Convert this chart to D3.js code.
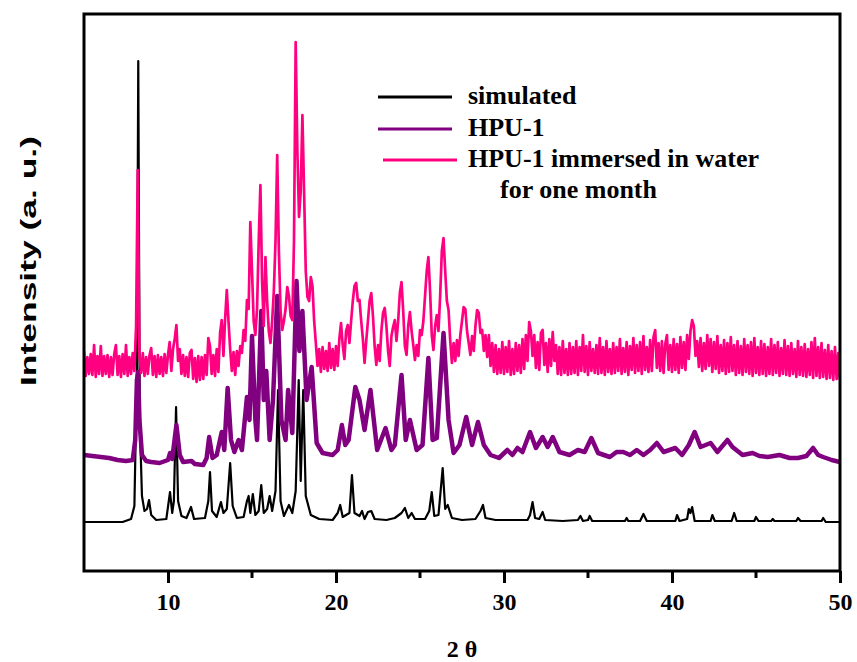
<!DOCTYPE html>
<html>
<head>
<meta charset="utf-8">
<script src="https://cdn.jsdelivr.net/npm/d3@7"></script>
<style>
  body { margin: 0; background: #fff; }
  svg { display: block; }
</style>
</head>
<body>
<svg id="chart" width="857" height="662"></svg>
<script>
// x ticks
var xTicks = [10, 20, 30, 40, 50];
var xMinor = [15, 25, 35, 45];

// legend
var legendNames = ["simulated", "HPU-1", "HPU-1 immersed in water"];
var legendColors = ["#000000", "#800080", "#ff0080"];

// simulated pattern, [2theta, intensity]
var simulated = [
  [5,49],[7.3,49],[7.8,52],[8.0,65],[8.15,200],[8.23,510],[8.32,150],[8.45,75],[8.6,60],[8.75,62],[8.87,71],[9.0,56],[9.3,51],
  [9.9,52],[10.12,79],[10.25,58],[10.35,70],[10.48,164],[10.6,70],[10.8,55],[11.1,53],[11.37,64],[11.55,52],[12.2,53],[12.4,70],
  [12.5,99],[12.62,60],[12.9,54],[13.15,69],[13.3,58],[13.5,62],[13.7,108],[13.85,65],[14.1,53],[14.5,54],[14.7,70],[14.8,75],
  [14.9,58],[15.05,77],[15.2,56],[15.4,60],[15.55,86],[15.7,58],[15.9,62],[16.05,75],[16.2,60],[16.4,80],[16.55,181],[16.7,70],
  [16.9,55],[17.2,66],[17.4,58],[17.6,80],[17.78,191],[17.9,90],[18.05,181],[18.2,75],[18.5,56],[19.0,52],[19.8,51],[20.1,58],
  [20.25,66],[20.4,54],[20.8,58],[20.95,96],[21.1,58],[21.4,55],[21.55,60],[21.7,52],[21.9,59],[22.1,60],[22.3,52],[23.0,51],
  [23.5,53],[23.9,58],[24.1,63],[24.3,53],[24.5,58],[24.7,52],[25.3,52],[25.55,60],[25.7,79],[25.85,55],[26.1,56],[26.35,103],
  [26.5,62],[26.65,66],[26.9,53],[27.5,51],[28.3,52],[28.6,60],[28.75,66],[28.9,53],[29.5,51],[30.5,51],[31.4,51],[31.55,56],
  [31.7,69],[31.85,53],[32.1,52],[32.3,59],[32.45,51],[33.5,50],[34.4,51],[34.55,55],[34.7,50],[35.0,51],[35.1,55],[35.25,50],
  [36.5,50],[37.2,50],[37.3,53],[37.4,50],[38.1,50],[38.3,57],[38.5,50],[39.5,50],[40.2,50],[40.3,56],[40.45,50],[40.9,52],
  [41.0,62],[41.1,58],[41.2,64],[41.35,50],[42.3,50],[42.4,56],[42.55,50],[43.55,50],[43.7,58],[43.85,50],[44.9,50],[45.0,54],
  [45.15,50],[45.9,50],[46.0,52],[46.1,50],[47.4,50],[47.5,53],[47.65,50],[48.9,50],[49.0,53],[49.15,49],[50,49]
];

// HPU-1 as synthesized, [2theta, intensity]
var hpu = [
  [5.0,116],[5.5,115],[6.0,114],[6.5,113],[7.0,111],[7.5,110],[7.9,111],[8.05,131],[8.15,191],[8.22,199],[8.3,151],[8.45,116],
  [8.7,110],[9.0,109],[9.5,108],[10.0,111],[10.12,118],[10.25,112],[10.5,146],[10.7,116],[10.9,109],[11.4,110],[11.6,107],
  [12.1,106],[12.3,113],[12.45,134],[12.65,113],[12.9,116],[13.2,139],[13.35,121],[13.55,183],[13.75,131],[13.95,119],[14.2,131],
  [14.4,121],[14.7,174],[14.85,151],[15.0,235],[15.2,151],[15.3,131],[15.55,260],[15.7,171],[15.85,200],[16.05,131],[16.25,171],
  [16.5,275],[16.75,151],[17.0,131],[17.15,181],[17.4,138],[17.65,290],[17.82,220],[18.0,260],[18.25,171],[18.55,204],[18.85,128],
  [19.2,118],[19.8,116],[20.1,121],[20.35,146],[20.55,126],[20.75,131],[21.15,184],[21.4,171],[21.7,141],[22.05,181],[22.45,121],
  [22.95,143],[23.3,121],[23.5,126],[23.9,196],[24.15,131],[24.4,151],[24.8,121],[25.15,126],[25.5,213],[25.75,131],[26.0,133],
  [26.4,238],[26.7,151],[27.0,118],[27.35,126],[27.75,154],[28.1,126],[28.45,149],[28.8,126],[29.2,116],[29.7,113],[30.2,121],
  [30.5,116],[30.8,123],[31.1,119],[31.55,139],[31.9,123],[32.3,134],[32.6,124],[32.9,134],[33.3,119],[33.9,116],[34.4,121],
  [34.8,119],[35.2,133],[35.6,118],[36.3,114],[36.7,119],[37.1,119],[37.5,116],[37.9,121],[38.3,116],[38.7,121],[39.1,128],
  [39.5,119],[40.2,123],[40.6,116],[41.0,126],[41.35,139],[41.7,124],[42.3,128],[42.7,119],[43.3,131],[43.6,124],[44.2,116],
  [44.8,118],[45.2,115],[45.7,114],[46.4,116],[47.0,113],[47.5,113],[48.0,115],[48.4,123],[48.7,116],[49.0,114],[49.5,111],[50,109]
];

// HPU-1 after one month in water, sampled every 0.1 deg from 5.0
var waterStart = 5.0;
var waterStep = 0.1;
var water = [
  220,195,214,197,217,196,226,194,215,197,
  225,195,215,197,216,194,214,196,217,226,
  196,215,194,217,197,226,195,214,197,218,
  200,245,401,215,198,218,195,214,197,216,
  223,196,215,194,216,197,214,195,217,198,
  216,229,200,222,232,246,210,222,197,216,
  195,214,194,218,221,192,213,189,215,191,
  214,192,216,196,233,225,197,216,195,222,
  199,238,251,215,252,281,250,222,200,219,
  196,220,205,225,218,241,230,271,262,349,
  300,250,236,262,330,386,290,245,314,270,
  240,228,250,280,330,416,320,260,241,250,
  262,284,275,255,251,330,529,420,354,380,
  456,380,300,274,270,294,285,250,228,205,
  222,199,224,202,220,200,228,203,222,201,
  225,205,232,248,226,212,240,246,228,250,
  270,285,288,270,271,250,232,208,230,250,
  270,278,255,225,206,226,210,240,258,263,
  245,220,205,235,244,251,230,250,278,289,
  260,225,216,245,259,240,226,211,226,215,
  241,236,250,275,300,314,280,236,221,245,
  256,240,275,320,333,300,270,261,230,208,
  228,210,231,215,236,250,264,262,240,228,
  216,235,220,245,261,258,238,241,220,236,
  214,236,205,228,199,226,197,222,198,229,
  197,224,199,230,196,222,197,228,200,226,
  198,232,202,236,210,249,240,215,236,203,
  229,201,238,241,206,228,199,232,205,239,
  210,226,197,224,196,230,198,222,196,228,
  197,224,198,230,196,224,200,236,199,225,
  196,229,200,222,198,226,197,233,198,224,
  196,230,199,222,197,228,198,224,200,232,
  197,223,199,229,196,225,201,233,198,226,
  200,229,197,235,201,224,199,231,200,234,
  241,203,228,200,230,198,227,236,201,226,
  199,232,201,227,198,234,203,229,201,236,
  212,240,251,245,215,230,204,233,200,228,
  202,236,205,232,199,229,202,235,198,226,
  200,231,197,228,199,234,200,226,196,230,
  198,225,196,232,199,226,197,229,195,233,
  198,224,196,230,197,227,195,224,197,232,
  196,226,198,229,195,223,197,231,196,225,
  195,228,197,222,194,230,196,224,195,227,
  194,222,196,229,193,233,195,224,193,228,
  194,221,192,226,193,220,191,224,192,218,
  191
];

var svg = d3.select("#chart");

// plot box in pixels
var plotLeft = 84, plotRight = 840, plotTop = 14, plotBottom = 571;

var x = d3.scaleLinear().domain([5, 50]).range([plotLeft, plotRight]);
var y = d3.scaleLinear().domain([0, 557]).range([plotBottom, plotTop]);

svg.append("clipPath")
  .attr("id", "plotclip")
  .append("rect")
  .attr("x", plotLeft).attr("y", plotTop)
  .attr("width", plotRight - plotLeft).attr("height", plotBottom - plotTop);

var line = d3.line()
  .x(function(d) { return x(d[0]); })
  .y(function(d) { return y(d[1]); });

var waterPts = water.map(function(v, i) { return [waterStart + i * waterStep, v]; });

var plot = svg.append("g").attr("clip-path", "url(#plotclip)");

// draw order: simulated, HPU-1, then water sample on top
plot.append("path")
  .datum(simulated)
  .attr("d", line)
  .attr("fill", "none")
  .attr("stroke", legendColors[0])
  .attr("stroke-width", 2.2)
  .attr("stroke-linejoin", "round");

plot.append("path")
  .datum(hpu)
  .attr("d", line)
  .attr("fill", "none")
  .attr("stroke", legendColors[1])
  .attr("stroke-width", 4.5)
  .attr("stroke-linejoin", "round");

plot.append("path")
  .datum(waterPts)
  .attr("d", line)
  .attr("fill", "none")
  .attr("stroke", legendColors[2])
  .attr("stroke-width", 2.7)
  .attr("stroke-linejoin", "round");

// frame
svg.append("rect")
  .attr("x", plotLeft).attr("y", plotTop)
  .attr("width", plotRight - plotLeft).attr("height", plotBottom - plotTop)
  .attr("fill", "none")
  .attr("stroke", "#000")
  .attr("stroke-width", 3);

// bottom axis
var xAxis = d3.axisBottom(x)
  .tickValues(xTicks)
  .tickSize(12)
  .tickPadding(10)
  .tickFormat(d3.format("d"));

var gx = svg.append("g")
  .attr("transform", "translate(0," + plotBottom + ")")
  .call(xAxis);
gx.select(".domain").remove();
gx.selectAll(".tick line").attr("stroke", "#000").attr("stroke-width", 3);
gx.selectAll(".tick text")
  .attr("font-family", "'Liberation Serif', 'Times New Roman', serif")
  .attr("font-weight", "bold")
  .attr("font-size", 24)
  .attr("fill", "#000");

svg.append("g")
  .selectAll("line")
  .data(xMinor)
  .enter()
  .append("line")
  .attr("x1", function(d) { return x(d); })
  .attr("x2", function(d) { return x(d); })
  .attr("y1", plotBottom)
  .attr("y2", plotBottom + 7)
  .attr("stroke", "#000")
  .attr("stroke-width", 3);

// axis titles
svg.append("text")
  .attr("x", 462)
  .attr("y", 657)
  .attr("text-anchor", "middle")
  .attr("font-family", "'Liberation Serif', 'Times New Roman', serif")
  .attr("font-weight", "bold")
  .attr("font-size", 24)
  .text("2 θ");

svg.append("text")
  .attr("transform", "translate(36,261) rotate(-90)")
  .attr("text-anchor", "middle")
  .attr("font-family", "'Liberation Sans', Arial, sans-serif")
  .attr("font-weight", "bold")
  .attr("font-size", 22)
  .attr("textLength", 250)
  .attr("lengthAdjust", "spacingAndGlyphs")
  .text("Intensity (a. u.)");

// legend
var legendY = [97, 129, 160];
var legend = svg.append("g").attr("class", "legend");

legend.selectAll("line")
  .data(legendColors)
  .enter()
  .append("line")
  .attr("x1", function(d, i) { return i == 2 ? 383 : 378; })
  .attr("x2", function(d, i) { return i == 2 ? 457 : 452; })
  .attr("y1", function(d, i) { return legendY[i]; })
  .attr("y2", function(d, i) { return legendY[i]; })
  .attr("stroke", function(d) { return d; })
  .attr("stroke-width", 3);

legend.selectAll("text")
  .data(legendNames)
  .enter()
  .append("text")
  .attr("x", 468)
  .attr("y", function(d, i) { return legendY[i] + 7; })
  .attr("font-family", "'Liberation Serif', 'Times New Roman', serif")
  .attr("font-weight", "bold")
  .attr("font-size", 26)
  .text(function(d) { return d; });

legend.append("text")
  .attr("x", 500)
  .attr("y", 198)
  .attr("font-family", "'Liberation Serif', 'Times New Roman', serif")
  .attr("font-weight", "bold")
  .attr("font-size", 26)
  .text("for one month");
</script>
</body>
</html>
